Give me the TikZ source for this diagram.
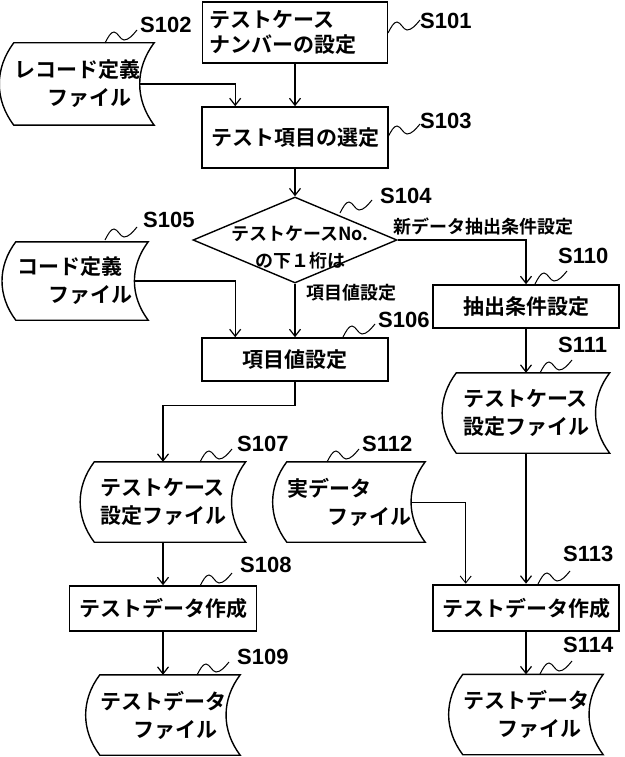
\documentclass[tikz,border=0pt]{standalone}
\usepackage{fontspec}
\setmainfont{Noto Sans CJK JP}[BoldFont={* Bold}]
\newfontfamily\labfont{Liberation Sans}
\usetikzlibrary{shapes.geometric, arrows.meta}
\newcommand\jpbig{\fontsize{21}{28}\selectfont\bfseries}
\newcommand\jpsmall{\fontsize{18}{27}\selectfont\bfseries}
\newcommand\stepfont{\labfont\fontsize{22}{22}\selectfont\bfseries}

\begin{document}
\begin{tikzpicture}[x=1pt, y=-1pt]
        \tikzset{ bx/.style ={draw=black, line width=1.6pt, inner sep=0pt, text=black, font=\jpbig } }
        \tikzset{ fl/.style ={inner sep=0pt, minimum height=80pt, align=left, text=black, font=\jpbig } }
        \tikzset{ dia/.style ={draw=black, diamond, line width=1.4pt, minimum width=204pt, minimum height=86pt, inner sep=0pt } }
        \tikzset{ qt/.style ={inner sep=0pt, align=center, font=\jpsmall } }
        \tikzset{ stp/.style ={inner sep=0pt, anchor=west, font=\stepfont } }

        \tikzstyle{lnk}=[->,>={Straight Barb[length=7pt,width=11pt]}, line width=1.2pt]
        \tikzstyle{lead}=[line width=1pt]
        \tikzstyle{outl}=[line width=1.4pt]

        \newcommand\fileshape[1]{\draw[outl] (#1.north west) -- ([xshift=14pt]#1.north east) to[bend right=37] ([xshift=14pt]#1.south east) -- (#1.south west) to[bend left=37] (#1.north west) -- cycle;}
        \newcommand\wig[1]{\draw[lead] #1 sin ++(9,-11) cos ++(5,4) sin ++(5,4) cos ++(13,-10);}

        \useasboundingbox (0,0) rectangle (624,757);

        \node[bx, minimum width=185pt, minimum height=61pt, text width=171pt, inner xsep=7pt, align=left, font=\fontsize{21}{25}\selectfont\bfseries] (S101) at (295,32.5) {テストケース\\ナンバーの設定};
        \node[fl, minimum width=122pt, minimum height=82pt] (S102) at (77,84) {レコード定義\\\hspace*{33pt}ファイル};
        \fileshape{S102}
        \node[bx, minimum width=186pt, minimum height=61pt] (S103) at (295,137.5) {テスト項目の選定};
        \node[dia] (S104) at (295,240) {};
        \node[qt] (S104txt) at (300,247) {テストケースNo.\\の下１桁は};
        \node[fl, minimum width=118pt, minimum height=78pt] (S105) at (75,281) {コード定義\\\hspace*{31pt}ファイル};
        \fileshape{S105}
        \node[bx, minimum width=186pt, minimum height=43pt] (S106) at (295,359.5) {項目値設定};

        \node[fl, minimum width=137pt] (S107) at (163,502) {テストケース\\設定ファイル};
        \fileshape{S107}
        \node[bx, minimum width=187pt, minimum height=45pt] (S108) at (163,608.5) {テストデータ作成};
        \node[fl, minimum width=121pt] (S109) at (163,715) {テストデータ\\\hspace*{33pt}ファイル};
        \fileshape{S109}

        \node[bx, minimum width=186pt, minimum height=43pt] (S110) at (526,306.5) {抽出条件設定};
        \node[fl, minimum width=139pt] (S111) at (526,413) {テストケース\\設定ファイル};
        \fileshape{S111}
        \node[fl, minimum width=120pt] (S112) at (349,502) {実データ\\\hspace*{40pt}ファイル};
        \fileshape{S112}
        \node[bx, line width=2.6pt, minimum width=186pt, minimum height=46pt] (S113) at (526,608) {テストデータ作成};
        \node[fl, minimum width=121pt] (S114) at (526,714.5) {テストデータ\\\hspace*{34pt}ファイル};
        \fileshape{S114}

        \draw[lnk] (S101.south) -- (S101.south |- S103.north);
        \draw[lnk] (S102.east) -| ([xshift=34pt]S103.north west);
        \draw[lnk] (S103.south) -- (S103.south |- S104.north);
        \draw[lnk] (S104.east) -| (S110.north);
        \node[qt, anchor=west] (lnew) at (393,227) {新データ抽出条件設定};
        \draw[lnk] (S104.south) -- (S104.south |- S106.north);
        \node[qt, anchor=west] (lset) at (306,293) {項目値設定};
        \draw[lnk] (S105.east) -| ([xshift=34pt]S106.north west);
        \draw[lnk] (S106.south) -- ++(0,24) -| (S107.north);
        \draw[lnk] (S107.south) -- (S107.south |- S108.north);
        \draw[lnk] (S108.south) -- (S108.south |- S109.north);
        \draw[lnk] (S110.south) -- (S110.south |- S111.north);
        \draw[lnk] (S111.south) -- (S111.south |- S113.north);
        \draw[lnk, line width=0.9pt] (S112.east) -| ([xshift=34pt]S113.north west);
        \draw[lnk] (S113.south) -- (S113.south |- S114.north);

        \wig{(388,33)}  \node[stp] (n101) at (420,21) {S101};
        \wig{(105,43)}  \node[stp] (n102) at (140,25) {S102};
        \wig{(388,137)} \node[stp] (n103) at (420,121) {S103};
        \wig{(340,213)} \node[stp] (n104) at (380,196) {S104};
        \wig{(105,240)} \node[stp] (n105) at (143,220) {S105};
        \wig{(343,337)} \node[stp] (n106) at (378,320) {S106};
        \wig{(200,462)} \node[stp] (n107) at (237,444) {S107};
        \wig{(200,586)} \node[stp] (n108) at (240,565) {S108};
        \wig{(197,675)} \node[stp] (n109) at (237,657) {S109};
        \wig{(535,284)} \node[stp] (n110) at (558,256) {S110};
        \wig{(540,373)} \node[stp] (n111) at (558,345) {S111};
        \wig{(327,462)} \node[stp] (n112) at (362,444) {S112};
        \wig{(538,584)} \node[stp] (n113) at (563,554) {S113};
        \wig{(540,674)} \node[stp] (n114) at (563,645) {S114};
      \end{tikzpicture}
\end{document}
